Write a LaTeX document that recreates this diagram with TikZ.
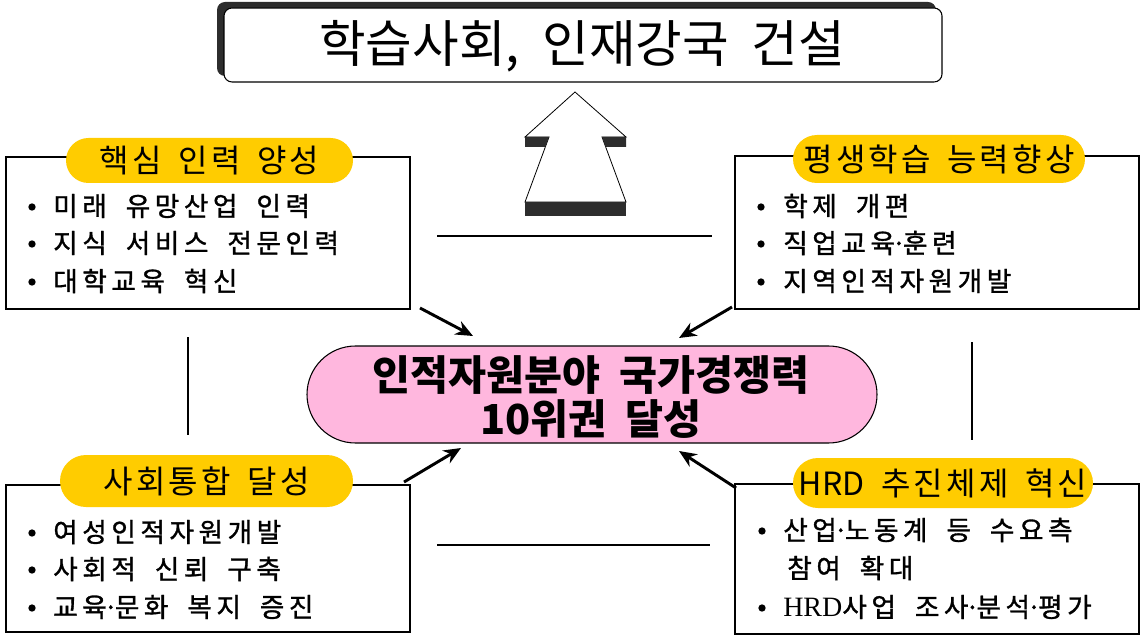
\documentclass[tikz,border=0pt]{standalone}
\usepackage{fontspec}
\usetikzlibrary{arrows.meta,shapes.misc}
\newfontfamily\kr{Noto Sans CJK KR}
\newfontfamily\lserif{Liberation Serif}
\newfontfamily\krtitle{Noto Sans CJK KR}[WordSpace=2.2]
\newfontfamily\krlab{Noto Sans CJK KR}[LetterSpace=10,WordSpace=1.6]
\newfontfamily\kritem{Noto Sans CJK KR}[LetterSpace=17,WordSpace=1.8,FakeBold=1.2]
\newfontfamily\krcen{Noto Sans CJK KR}[WordSpace=2]
\newcommand\md{\hbox to 0.3em{\hss\char"00B7\hss}}
\definecolor{lab}{RGB}{255,204,0}
\definecolor{pinkc}{RGB}{255,183,222}
\definecolor{shad}{RGB}{45,45,45}
\begin{document}
\begin{tikzpicture}[x=0.75pt,y=-0.75pt,
  box/.style={draw=black,line width=1.1pt,fill=white},
  labelbox/.style={rounded rectangle,fill=lab,inner sep=0pt,font=\krlab\fontsize{24}{27}\selectfont},
  item/.style={anchor=west,inner sep=0pt,font=\kritem\fontsize{20}{23}\selectfont},
  bul/.style={circle,fill=black,inner sep=0pt,minimum size=5.5pt},
  conn/.style={line width=2pt},
  arr/.style={line width=2.2pt,-{Stealth[length=13pt,width=11pt]}}]
\useasboundingbox (0,0) rectangle (1144,641);
% title
\fill[shad,rounded corners=6pt] (217,2) rectangle (936,76);
\node[draw=black,line width=0.8pt,fill=white,rounded corners=6pt,minimum width=718*0.75pt,minimum height=74*0.75pt,inner sep=0pt] (title) at (583,45) {};
\node[inner sep=0pt,font=\krtitle\fontsize{38}{42}\selectfont] (titletext) at (582,46) {학습사회, 인재강국 건설};
% up arrow
\draw[line width=0.6pt,fill=white] (575,92) -- (525,137) -- (549,137) -- (525,202) -- (626,202) -- (602,137) -- (626,137) -- cycle;
\fill[shad] (525,137) -- (549,137) -- (545.3,147) -- (525,147) -- cycle;
\fill[shad] (602,137) -- (626,137) -- (626,147) -- (605.7,147) -- cycle;
\fill[shad] (525,202) rectangle (626,216);
% boxes
\draw[box] (6,157) rectangle (410,309);
\draw[box] (735,156) rectangle (1139,309);
\draw[box] (6,485) rectangle (410,632);
\draw[box] (735,484) rectangle (1139,634);
% labels
\node[labelbox,minimum width=287*0.75pt,minimum height=45*0.75pt] (l1) at (209.5,160.5) {핵심 인력 양성};
\node[labelbox,minimum width=292*0.75pt,minimum height=48*0.75pt] (l2) at (939,159) {평생학습 능력향상};
\node[labelbox,minimum width=293*0.75pt,minimum height=52*0.75pt] (l3) at (206.5,481) {사회통합 달성};
\node[labelbox,minimum width=300*0.75pt,minimum height=50*0.75pt] (l4) at (943,483) {{\kr HRD} 추진체제 혁신};
% items top-left
\node[bul] (b11) at (32,207) {}; \node[item] (i11) at (53,206) {미래 유망산업 인력};
\node[bul] (b12) at (32,244) {}; \node[item] (i12) at (53,243) {지식 서비스 전문인력};
\node[bul] (b13) at (32,282) {}; \node[item] (i13) at (53,281) {대학교육 혁신};
% items top-right
\node[bul] (b21) at (761,207) {}; \node[item] (i21) at (783,206) {학제 개편};
\node[bul] (b22) at (761,244) {}; \node[item] (i22) at (783,243) {직업교육\md 훈련};
\node[bul] (b23) at (761,282) {}; \node[item] (i23) at (783,281) {지역인적자원개발};
% items bottom-left
\node[bul] (b31) at (32,533) {}; \node[item] (i31) at (53,532) {여성인적자원개발};
\node[bul] (b32) at (32,570) {}; \node[item] (i32) at (53,569) {사회적 신뢰 구축};
\node[bul] (b33) at (32,608) {}; \node[item] (i33) at (53,607) {교육\md 문화 복지 증진};
% items bottom-right
\node[bul] (b41) at (762,531) {}; \node[item] (i41) at (783,530) {산업\md 노동계 등 수요측};
\node[item] (i42) at (787,568) {참여 확대};
\node[bul] (b43) at (762,608) {}; \node[item] (i43) at (783,607) {{\lserif\fontsize{21}{23}\selectfont HRD}사업 조사\md 분석\md 평가};
% center
\node[rounded rectangle,draw=black,line width=0.8pt,fill=pinkc,minimum width=570*0.75pt,minimum height=97*0.75pt,inner sep=0pt] (center) at (592,394.5) {};
\node[inner sep=0pt,align=center,font=\krcen\bfseries\fontsize{31}{32.5}\selectfont] (centertext) at (591,397) {인적자원분야 국가경쟁력\\10위권 달성};
% plain lines
\coordinate (h1a) at (437,236); \coordinate (h1b) at (712,236);
\coordinate (h2a) at (437,545); \coordinate (h2b) at (710,545);
\coordinate (v1a) at (188,337); \coordinate (v1b) at (188,435);
\coordinate (v2a) at (972,342); \coordinate (v2b) at (972,440);
\draw[conn] (h1a) -- (h1b);
\draw[conn] (h2a) -- (h2b);
\draw[conn] (v1a) -- (v1b);
\draw[conn] (v2a) -- (v2b);
% arrows
\coordinate (a1s) at (420,308); \coordinate (a1e) at (473,336);
\coordinate (a2s) at (732,307); \coordinate (a2e) at (679,338);
\coordinate (a3s) at (404,482); \coordinate (a3e) at (461,448);
\coordinate (a4s) at (736,488); \coordinate (a4e) at (679,451);
\draw[arr] (a1s) -- (a1e);
\draw[arr] (a2s) -- (a2e);
\draw[arr] (a3s) -- (a3e);
\draw[arr] (a4s) -- (a4e);
\end{tikzpicture}
\end{document}
